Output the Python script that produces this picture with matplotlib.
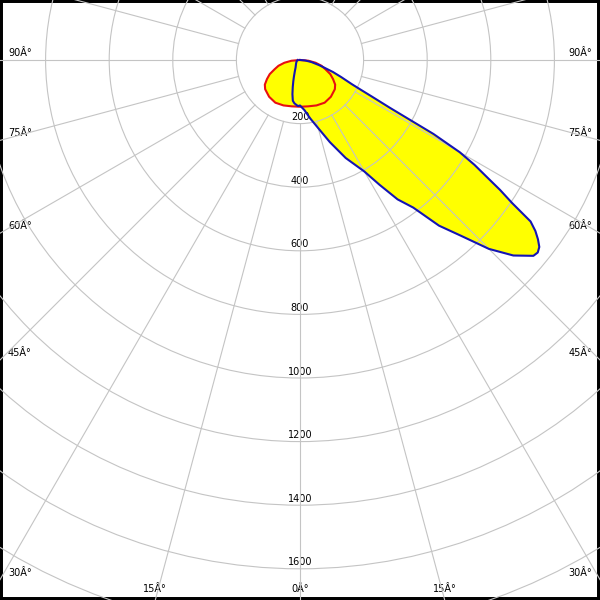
import numpy as np
import matplotlib
matplotlib.use("Agg")
from matplotlib import pyplot as plt
from matplotlib.patches import Circle

# C90-C270 plane (blue), right side = C90, left side = C270
blue_right_deg = [0, 5, 10, 15, 20, 25, 30, 32.5, 35, 37.5, 40, 42.5, 45, 47.5,
                  50, 51, 52, 53, 54, 55, 56, 57, 58, 59, 60, 61, 62, 63, 64,
                  65, 67.5, 70, 72.5, 75, 80, 85, 90]
blue_right_cd = [143, 158, 187, 222, 275, 340, 405, 465, 535, 585, 680, 750, 840, 910,
                 958, 962, 955, 937, 915, 885, 805, 750, 690, 640, 580, 480, 320, 255, 210,
                 180, 140, 110, 80, 62, 36, 16, 0]
blue_left_deg = [0, 2.5, 5, 7.5, 10, 12.5, 15, 17.5, 20, 25, 30, 40, 50, 60, 70, 80, 90]
blue_left_cd = [143, 145, 141, 137, 130, 110, 88, 70, 56, 38, 28, 20, 16, 13, 11, 9, 7]

# C0-C180 plane (red), symmetric
red_deg = [0, 10, 20, 30, 40, 50, 55, 60, 65, 70, 75, 80, 85, 90]
red_cd = [147, 148, 152, 155, 151, 143, 135, 120, 105, 85, 70, 50, 27, 0]

ring_values = [200, 400, 600, 800, 1000, 1200, 1400, 1600, 1800, 2000]
ring_labels = ['200', '400', '600', '800', '1000', '1200', '1400', '1600']
spoke_deg = np.arange(0, 360, 15)
angle_labels = [0, 15, 30, 45, 60, 75, 90]

k = 0.318  # px per cd
px = 1 / k
xmin, xmax = -300 * px, 300 * px
ymin, ymax = -540 * px, 60 * px


def to_xy(deg, cd):
    t = np.radians(np.asarray(deg, float))
    r = np.asarray(cd, float)
    return r * np.sin(t), -r * np.cos(t)


fig = plt.figure(figsize=(6, 6), dpi=100)
ax = fig.add_axes([0, 0, 1, 1])
ax.set_xlim(xmin, xmax)
ax.set_ylim(ymin, ymax)
ax.set_aspect('equal')
ax.set_xticks([])
ax.set_yticks([])
for s in ax.spines.values():
    s.set_linewidth(4.3)
    s.set_color('black')

# curves
bx_r, by_r = to_xy(blue_right_deg, blue_right_cd)
bx_l, by_l = to_xy(-np.array(blue_left_deg[::-1]), blue_left_cd[::-1])
bx = np.concatenate([bx_l, bx_r])
by = np.concatenate([by_l, by_r])

rdeg = np.concatenate([-np.array(red_deg[::-1]), red_deg[1:]])
rcd = np.concatenate([red_cd[::-1], red_cd[1:]])
rx, ry = to_xy(rdeg, rcd)

ax.fill(rx, ry, color='#ffff00', zorder=1, lw=0)
ax.fill(bx, by, color='#ffff00', zorder=1, lw=0)

# grid
gcol = '#c4c4c4'
for r in ring_values:
    ax.add_patch(Circle((0, 0), r, fill=False, ec=gcol, lw=0.8, zorder=3))
for a in spoke_deg:
    x, y = to_xy([a, a], [200, 2500])
    ax.plot(x, y, color=gcol, lw=0.8, zorder=3)

# ring labels
for r, lab in zip(ring_values, ring_labels):
    ax.text(0, -r + 20, lab, ha='center', va='center', fontsize=7, zorder=2)

# angle labels
for a in angle_labels:
    for sgn in ([1] if a == 0 else [-1, 1]):
        t = np.radians(a)
        if a >= 30:
            # spoke leaves through a side edge
            y_edge = -300 * px / np.tan(t) if a < 90 else 0
            x = (xmin + 8 * px) if sgn < 0 else (xmax - 8 * px)
            ax.text(x, y_edge + 7 * px, f'{a}Â°', ha='left' if sgn < 0 else 'right',
                    va='center', fontsize=7, zorder=2)
        else:
            x_edge = sgn * (-ymin) * np.tan(t)
            ax.text(x_edge, ymin + 11 * px, f'{a}Â°', ha='center', va='center',
                    fontsize=7, zorder=2)

ax.plot(rx, ry, color='#e81010', lw=1.5, zorder=4)
ax.plot(bx, by, color='#1414b4', lw=1.5, zorder=5)

fig.savefig('out.png', dpi=100)
